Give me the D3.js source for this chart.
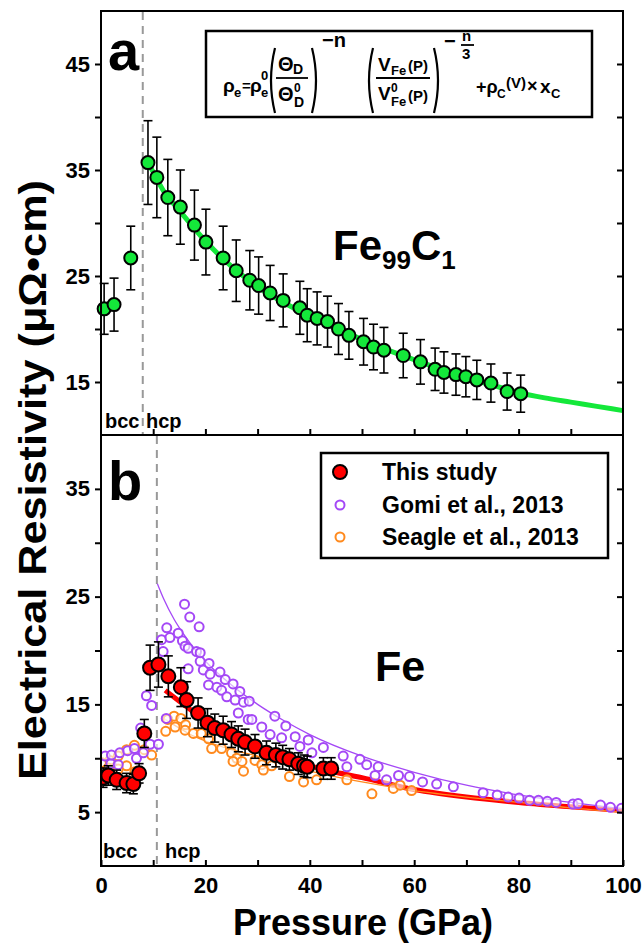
<!DOCTYPE html>
<html>
<head>
<meta charset="utf-8">
<script src="https://cdn.jsdelivr.net/npm/d3@7"></script>
<style>
  body { margin: 0; background: #fff; }
  svg text { font-family: "Liberation Sans", Arial, sans-serif; font-weight: bold; fill: #000; }
</style>
</head>
<body>
<svg id="chart" width="644" height="946"></svg>
<script>
// panel a: Fe99C1 (druk in GPa, weerstand in µΩ·cm)
var feCP = [0.6, 2.5, 5.7, 9.0, 10.7, 12.8, 15.2, 17.9, 20.1, 23.4, 25.9, 28.5, 30.2, 32.4, 34.9, 38.1, 39.5, 41.4, 43.4, 45.5, 47.5, 50.3, 52.2, 54.2, 57.9, 61.2, 64.0, 65.7, 68.0, 69.9, 72.0, 74.7, 77.8, 80.4];
var feCRho = [21.9, 22.3, 26.7, 35.7, 34.3, 32.4, 31.5, 29.8, 28.2, 26.7, 25.5, 24.6, 24.1, 23.4, 22.7, 22.0, 21.3, 21.0, 20.7, 20.0, 19.4, 18.8, 18.3, 18.0, 17.5, 16.9, 16.2, 15.9, 15.7, 15.5, 15.2, 14.9, 14.1, 13.9];
var feCErr = [2.4, 2.5, 3.0, 3.95, 3.8, 3.6, 3.5, 3.3, 3.1, 3.0, 2.9, 2.8, 2.7, 2.6, 2.5, 2.5, 2.5, 2.5, 2.4, 2.4, 2.25, 2.2, 2.15, 2.15, 2.1, 2.1, 2.0, 1.95, 1.95, 1.9, 1.85, 1.8, 1.75, 1.75];
var feCFitP = [9, 10, 12, 15, 20, 25, 30, 35, 40, 45, 50, 55, 60, 65, 70, 75, 80, 85, 90, 95, 100];
var feCFitRho = [35.7, 34.8, 33.0, 31.2, 28.3, 25.9, 24.0, 22.5, 21.2, 20.1, 19.0, 18.0, 17.1, 16.2, 15.4, 14.7, 14.0, 13.5, 13.1, 12.7, 12.3];

// panel b: Fe, deze studie
var feP = [0.4, 1.4, 3.0, 4.9, 6.2, 7.3, 8.3, 9.4, 11.0, 12.9, 15.3, 16.4, 18.6, 20.4, 21.8, 23.4, 25.0, 26.3, 27.6, 29.5, 31.7, 33.5, 34.8, 36.1, 37.8, 38.9, 39.5, 42.6, 44.1];
var feRho = [8.2, 8.4, 8.0, 7.7, 7.6, 8.6, 12.3, 18.4, 18.7, 17.6, 16.6, 15.4, 14.2, 13.3, 12.8, 12.6, 12.2, 11.8, 11.5, 11.1, 10.5, 10.3, 10.1, 9.9, 9.5, 9.3, 9.2, 9.05, 9.05];
var feErr = [0.9, 0.9, 0.9, 0.9, 0.9, 0.9, 1.3, 2.1, 2.1, 1.9, 1.8, 1.7, 1.4, 1.3, 1.3, 1.3, 1.2, 1.2, 1.2, 1.1, 1.1, 1.1, 1.1, 1.0, 1.0, 1.0, 1.0, 1.0, 1.0];
var feFitP = [12.3, 15, 20, 25, 30, 35, 40, 45, 50, 60, 70, 80, 90, 100];
var feFitRho = [16.3, 15.3, 13.5, 12.2, 11.1, 10.1, 9.3, 8.7, 8.2, 7.1, 6.4, 5.9, 5.5, 5.15];

// Gomi et al., 2013
var gomiP = [0.8, 1.9, 2.0, 3.3, 3.6, 5.1, 6.4, 6.8, 7.6, 8.1, 8.7, 9.4, 9.7, 11.0, 12.5, 11.6, 11.9, 12.6, 13.2, 14.8, 15.6, 16.0, 16.1, 16.7, 16.7, 17.0, 18.3, 18.8, 19.0, 19.0, 19.6, 20.6, 20.7, 20.9, 22.2, 22.8, 23.1, 23.8, 24.1, 25.3, 25.7, 26.3, 26.6, 27.3, 28.4, 28.2, 28.9, 30.8, 33.3, 32.4, 34.6, 35.4, 37.2, 38.1, 39.7, 40.4, 42.6, 46.4, 47.1, 49.6, 50.9, 52.5, 53.1, 54.7, 57.0, 59.1, 61.6, 64.3, 67.5, 73.2, 75.9, 78.0, 80.1, 82.1, 83.8, 85.5, 87.2, 90.4, 91.4, 95.7, 97.6, 99.7];
var gomiRho = [10.2, 9.5, 10.3, 9.4, 10.5, 10.7, 10.9, 10.0, 12.8, 10.5, 15.8, 11.3, 14.9, 11.3, 13.7, 21.0, 19.9, 22.1, 21.2, 21.6, 20.9, 24.3, 20.4, 20.2, 18.3, 23.1, 19.9, 22.2, 19.0, 19.8, 18.2, 16.8, 18.8, 17.8, 16.6, 18.0, 16.3, 17.3, 15.7, 16.9, 15.4, 14.2, 16.2, 15.2, 15.3, 13.6, 13.6, 12.9, 13.9, 12.2, 11.9, 13.0, 12.0, 11.1, 11.7, 10.5, 11.0, 10.2, 9.2, 9.9, 9.4, 8.4, 9.2, 8.0, 8.4, 8.3, 7.8, 7.6, 7.35, 6.8, 6.6, 6.4, 6.3, 6.1, 6.1, 6.0, 5.9, 5.75, 5.8, 5.65, 5.45, 5.35];
var gomiFitP = [10.8, 12, 14, 16, 18, 20, 25, 30, 35, 40, 50, 60, 70, 80, 90, 100];
var gomiFitRho = [26.2, 24.8, 22.9, 21.4, 20.1, 19.0, 16.8, 15.0, 13.5, 12.2, 10.2, 8.7, 7.5, 6.6, 5.9, 5.3];

// Seagle et al., 2013
var seagleP = [0.1, 1.7, 3.3, 4.9, 6.4, 8.3, 9.7, 1.4, 3.3, 4.9, 6.5, 12.4, 12.8, 14.0, 15.3, 16.2, 17.7, 14.2, 16.1, 19.2, 20.6, 21.2, 23.1, 25.0, 26.0, 27.0, 29.5, 25.3, 27.3, 30.8, 31.1, 32.7, 36.1, 38.8, 41.3, 47.1, 51.9, 56.0, 57.3, 59.5];
var seagleRho = [9.6, 9.8, 10.2, 10.8, 11.2, 10.8, 10.3, 9.1, 9.0, 9.3, 8.75, 12.5, 13.6, 13.9, 13.7, 13.1, 12.3, 12.9, 12.6, 12.3, 11.8, 10.9, 10.9, 10.5, 10.0, 9.7, 9.8, 9.7, 8.8, 9.4, 8.9, 9.3, 8.3, 7.8, 8.0, 8.0, 6.7, 7.2, 7.5, 7.0];
var seagleFitP = [12, 15, 18, 20, 25, 30, 40, 50, 60, 70, 80, 90, 100];
var seagleFitRho = [13.7, 12.8, 12.0, 11.6, 10.8, 10.2, 8.8, 7.8, 7.0, 6.4, 5.9, 5.4, 5.0];

var xTicks = [0, 20, 40, 60, 80, 100];
var yTicksA = [15, 25, 35, 45];
var yTicksB = [5, 15, 25, 35];
var legendNames = ["This study", "Gomi et al., 2013", "Seagle et al., 2013"];

var groen = "#14e83a", rood = "#ff0000", paars = "#a448f6", oranje = "#ff8a1e";

var svg = d3.select("#chart");
var x = d3.scaleLinear().domain([0, 100]).range([101, 623]);
var yA = d3.scaleLinear().domain([10, 50]).range([435, 11]);
var yB = d3.scaleLinear().domain([0, 40]).range([866, 435]);

function zip(a, b, c) { return a.map(function(v, i) { return { p: v, r: b[i], e: c ? c[i] : 0 }; }); }

function drawAxes(y, majors, showX) {
    var minors = d3.range(y.domain()[0], y.domain()[1] + 0.1, 5).filter(function(v) { return v > y.domain()[0] && v < y.domain()[1]; });
    var left = svg.append("g").attr("transform", "translate(101,0)")
        .call(d3.axisLeft(y).tickValues(minors).tickSize(6).tickPadding(5)
            .tickFormat(function(d) { return majors.indexOf(d) >= 0 ? d : ""; }));
    var right = svg.append("g").attr("transform", "translate(623,0)")
        .call(d3.axisRight(y).tickValues(minors).tickSize(-6).tickFormat(""));
    var bottom = svg.append("g").attr("transform", "translate(0," + y.range()[0] + ")")
        .call(d3.axisBottom(x).tickValues(d3.range(10, 100, 10).concat(showX ? [0, 100] : []))
            .tickSize(-6).tickPadding(10)
            .tickFormat(function(d) { return showX && xTicks.indexOf(d) >= 0 ? d : ""; }));
    [left, right, bottom].forEach(function(g) {
        g.select(".domain").remove();
        g.selectAll("line").attr("stroke", "#000").attr("stroke-width", 2);
        g.selectAll("text").attr("font-size", 22).attr("fill", "#000");
    });
    bottom.selectAll("text").attr("dy", "0.75em");
    svg.append("rect").attr("x", 101).attr("y", y.range()[1]).attr("width", 522)
        .attr("height", y.range()[0] - y.range()[1])
        .attr("fill", "none").attr("stroke", "#000").attr("stroke-width", 2);
}

function errorBars(g, data, y) {
    var eb = g.selectAll(".eb").data(data).enter().append("g").attr("stroke", "#000").attr("stroke-width", 1.6);
    eb.append("line").attr("x1", function(d) { return x(d.p); }).attr("x2", function(d) { return x(d.p); })
        .attr("y1", function(d) { return y(d.r - d.e); }).attr("y2", function(d) { return y(d.r + d.e); });
    [-1, 1].forEach(function(s) {
        eb.append("line").attr("x1", function(d) { return x(d.p) - 4.5; }).attr("x2", function(d) { return x(d.p) + 4.5; })
            .attr("y1", function(d) { return y(d.r + s * d.e); }).attr("y2", function(d) { return y(d.r + s * d.e); });
    });
}

function fitLine(g, ps, rs, y, color, width) {
    g.append("path").datum(zip(ps, rs)).attr("fill", "none").attr("stroke", color).attr("stroke-width", width)
        .attr("d", d3.line().x(function(d) { return x(d.p); }).y(function(d) { return y(d.r); }).curve(d3.curveMonotoneX));
}

function phaseLine(y, p) {
    svg.append("line").attr("x1", x(p)).attr("x2", x(p)).attr("y1", y.range()[1] + 1).attr("y2", y.range()[0] - 1)
        .attr("stroke", "#999").attr("stroke-width", 2).attr("stroke-dasharray", "8,6");
}

function txt(px, py, s, size, anchor) {
    return svg.append("text").attr("x", px).attr("y", py).attr("font-size", size)
        .attr("text-anchor", anchor || "start").text(s);
}

// ---------- panel a ----------
phaseLine(yA, 8.0);
var ga = svg.append("g");
fitLine(ga, feCFitP, feCFitRho, yA, groen, 5);
var dataA = zip(feCP, feCRho, feCErr);
errorBars(ga, dataA, yA);
ga.selectAll(".pt").data(dataA).enter().append("circle")
    .attr("cx", function(d) { return x(d.p); }).attr("cy", function(d) { return yA(d.r); })
    .attr("r", 6.5).attr("fill", groen).attr("stroke", "#000").attr("stroke-width", 2);
drawAxes(yA, yTicksA, false);

txt(108, 70, "a", 56);
txt(105, 428, "bcc", 20);
txt(146, 428, "hcp", 20);
var feC = txt(333, 260, "Fe", 42);
feC.append("tspan").attr("font-size", 26).attr("dy", 9).text("99");
feC.append("tspan").attr("dy", -9).text("C");
feC.append("tspan").attr("font-size", 26).attr("dy", 9).text("1");

// formule-kader
svg.append("rect").attr("x", 206).attr("y", 31).attr("width", 386).attr("height", 86)
    .attr("fill", "#fff").attr("stroke", "#000").attr("stroke-width", 2.5);
function paren(x0, y0, y1, open) {
    var w = open ? -5 : 5;
    svg.append("path").attr("d", "M" + x0 + "," + y0 + " Q" + (x0 + w * 1.6) + "," + ((y0 + y1) / 2) + " " + x0 + "," + y1)
        .attr("fill", "none").attr("stroke", "#000").attr("stroke-width", 2.2);
}
function bar(x0, x1, yy) {
    svg.append("line").attr("x1", x0).attr("x2", x1).attr("y1", yy).attr("y2", yy).attr("stroke", "#000").attr("stroke-width", 1.8);
}
txt(223, 92, "ρ", 19); txt(234, 97, "e", 13);
txt(242, 91, "=", 15);
txt(250, 92, "ρ", 19); txt(261, 80, "0", 13); txt(261, 97, "e", 13);
paren(275, 48, 113, true);
txt(278, 71, "Θ", 20); txt(293, 74, "D", 14);
bar(276, 308, 78);
txt(278, 101, "Θ", 20); txt(294, 92, "0", 12); txt(294, 107, "D", 14);
paren(312, 48, 113, false);
txt(322, 47, "−n", 20);
paren(373, 48, 113, true);
txt(378, 71, "V", 19); txt(391, 75, "Fe", 13); txt(408, 71, "(P)", 15);
bar(376, 430, 78);
txt(378, 100, "V", 19); txt(391, 92, "0", 12); txt(391, 106, "Fe", 13); txt(408, 101, "(P)", 15);
paren(434, 48, 113, false);
txt(444, 48, "−", 20);
txt(462, 41, "n", 15); bar(461, 474, 45); txt(462, 59, "3", 15);
txt(476, 93, "+ρ", 18); txt(497, 98, "C", 12);
txt(506, 88, "(V)", 15); txt(527, 92, "×", 18);
txt(540, 93, "x", 19); txt(551, 98, "C", 13);

// ---------- panel b ----------
svg.append("clipPath").attr("id", "clipB").append("rect").attr("x", 101).attr("y", 435).attr("width", 522).attr("height", 431);
phaseLine(yB, 10.7);
var gb = svg.append("g").attr("clip-path", "url(#clipB)");
fitLine(gb, feFitP, feFitRho, yB, rood, 5);
fitLine(gb, seagleFitP, seagleFitRho, yB, oranje, 1.3);
fitLine(gb, gomiFitP, gomiFitRho, yB, paars, 1.3);
gb.selectAll(".sg").data(zip(seagleP, seagleRho)).enter().append("circle")
    .attr("cx", function(d) { return x(d.p); }).attr("cy", function(d) { return yB(d.r); })
    .attr("r", 4.5).attr("fill", "#fff").attr("fill-opacity", 0.6).attr("stroke", oranje).attr("stroke-width", 2);
gb.selectAll(".gm").data(zip(gomiP, gomiRho)).enter().append("circle")
    .attr("cx", function(d) { return x(d.p); }).attr("cy", function(d) { return yB(d.r); })
    .attr("r", 4.5).attr("fill", "#fff").attr("fill-opacity", 0.6).attr("stroke", paars).attr("stroke-width", 2);
var dataB = zip(feP, feRho, feErr);
errorBars(gb, dataB, yB);
gb.selectAll(".fe").data(dataB).enter().append("circle")
    .attr("cx", function(d) { return x(d.p); }).attr("cy", function(d) { return yB(d.r); })
    .attr("r", 7).attr("fill", rood).attr("stroke", "#000").attr("stroke-width", 2);
drawAxes(yB, yTicksB, true);

txt(108, 500, "b", 56);
txt(103, 858, "bcc", 20);
txt(165, 858, "hcp", 20);
txt(375, 681, "Fe", 43);

// legenda
svg.append("rect").attr("x", 321).attr("y", 453).attr("width", 287).attr("height", 105)
    .attr("fill", "#fff").attr("stroke", "#000").attr("stroke-width", 2.5);
var legY = [472, 505, 537];
svg.selectAll(".lg").data(legendNames).enter().append("text")
    .attr("x", 382).attr("y", function(d, i) { return legY[i] + 8; }).attr("font-size", 23).text(function(d) { return d; });
svg.append("circle").attr("cx", 340).attr("cy", legY[0]).attr("r", 7).attr("fill", rood).attr("stroke", "#000").attr("stroke-width", 2);
svg.append("circle").attr("cx", 340).attr("cy", legY[1]).attr("r", 4.5).attr("fill", "#fff").attr("stroke", paars).attr("stroke-width", 2);
svg.append("circle").attr("cx", 340).attr("cy", legY[2]).attr("r", 4.5).attr("fill", "#fff").attr("stroke", oranje).attr("stroke-width", 2);

// as-titels
txt(363, 935, "Pressure (GPa)", 36, "middle");
svg.append("text").attr("transform", "translate(46,480) rotate(-90)").attr("text-anchor", "middle")
    .attr("font-size", 38).attr("textLength", 600).attr("lengthAdjust", "spacingAndGlyphs")
    .text("Electrical Resistivity (μΩ•cm)");
</script>
</body>
</html>
